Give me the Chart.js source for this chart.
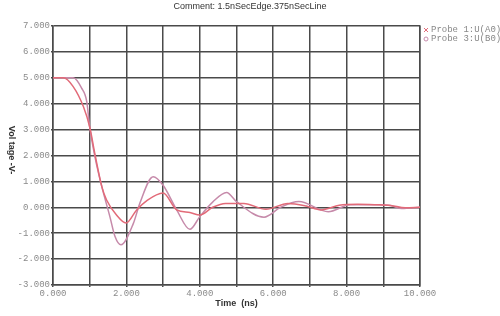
<!DOCTYPE html>
<html lang="en">
<head>
  <meta charset="UTF-8"/>
  <title>Comment: 1.5nSecEdge.375nSecLine</title>
  <script src="https://cdn.jsdelivr.net/npm/chart.js"></script>
  <style>
    html, body { margin: 0; padding: 0; background: #fff; }
    #wrap { width: 500px; height: 316px; position: relative; }
  </style>
</head>
<body>
  <div id="wrap"><canvas id="chart"></canvas></div>
  <script>
    const chartTitle = 'Comment: 1.5nSecEdge.375nSecLine';
    const xTitle = 'Time  (ns)';
    const yTitle = 'Vol tage -V-';
    const seriesNames = ['Probe 1:U(A0)', 'Probe 3:U(B0)'];

    // time in ns, voltage in V
    const probe1Time = [0, 0.28, 0.55, 0.83, 1.0, 1.15, 1.33, 1.46, 1.73, 1.99, 2.28, 2.55, 3.0, 3.37, 3.73, 4.0, 4.35, 4.7, 5.2, 5.8, 6.4, 6.9, 7.3, 7.8, 8.3, 8.8, 9.2, 9.6, 10];
    const probe1Volt = [5.0, 5.0, 4.66, 3.88, 3.1, 2.0, 0.8, 0.28, -0.3, -0.61, -0.1, 0.25, 0.55, -0.1, -0.2, -0.3, 0.0, 0.15, 0.15, -0.08, 0.15, 0.05, -0.1, 0.08, 0.12, 0.1, 0.07, -0.02, 0.0];

    const probe3Time = [0, 0.55, 0.78, 0.92, 1.0, 1.15, 1.33, 1.55, 1.69, 1.85, 2.19, 2.37, 2.73, 3.0, 3.37, 3.73, 4.0, 4.35, 4.73, 5.0, 5.75, 6.2, 6.7, 7.5, 8.1, 8.8, 9.2, 9.5, 10];
    const probe3Volt = [5.0, 5.0, 4.6, 4.08, 3.1, 1.9, 0.8, -0.36, -1.13, -1.45, -0.62, 0.17, 1.18, 0.85, -0.1, -0.85, -0.36, 0.2, 0.57, 0.22, -0.38, 0.0, 0.22, -0.17, 0.1, 0.1, 0.07, -0.05, 0.0];

    const yTicks = [-3, -2, -1, 0, 1, 2, 3, 4, 5, 6, 7];
    const xTicks = [0, 1, 2, 3, 4, 5, 6, 7, 8, 9, 10];
    const xLabelEvery = 2;

    const colors = ['#e26a78', '#c68aaa'];
    const markers = ['x', 'o'];

    const toPoints = (xs, ys) => xs.map((x, i) => ({ x, y: ys[i] }));

    const monoFont = { family: 'Liberation Mono', size: 9 };

    const extras = {
      id: 'extras',
      afterDraw(chart) {
        const ctx = chart.ctx;
        const area = chart.chartArea;
        ctx.save();
        // title
        ctx.fillStyle = '#333';
        ctx.font = '9px "Liberation Sans"';
        ctx.textAlign = 'center';
        ctx.textBaseline = 'middle';
        ctx.fillText(chartTitle, 250, 7);
        // x title
        ctx.font = 'bold 9px "Liberation Sans"';
        ctx.fillText(xTitle, (area.left + area.right) / 2, 304);
        // y title, rotated clockwise
        ctx.translate(11, 150);
        ctx.rotate(Math.PI / 2);
        ctx.fillText(yTitle, 0, 0);
        ctx.restore();

        // legend
        ctx.save();
        ctx.font = '9px "Liberation Mono"';
        ctx.textBaseline = 'middle';
        ctx.textAlign = 'left';
        seriesNames.forEach((name, i) => {
          const y = 30 + i * 9;
          ctx.strokeStyle = colors[i];
          ctx.lineWidth = 1;
          ctx.beginPath();
          if (markers[i] === 'x') {
            ctx.moveTo(424, y - 2); ctx.lineTo(428, y + 2);
            ctx.moveTo(428, y - 2); ctx.lineTo(424, y + 2);
          } else {
            ctx.arc(426, y, 2, 0, Math.PI * 2);
          }
          ctx.stroke();
          ctx.fillStyle = '#888';
          ctx.fillText(name, 431, y);
        });
        ctx.restore();
      }
    };

    new Chart(document.getElementById('chart'), {
      type: 'line',
      data: {
        datasets: [
          {
            label: seriesNames[0],
            data: toPoints(probe1Time, probe1Volt),
            borderColor: colors[0],
            borderWidth: 1.5,
            pointRadius: 0,
            cubicInterpolationMode: 'monotone'
          },
          {
            label: seriesNames[1],
            data: toPoints(probe3Time, probe3Volt),
            borderColor: colors[1],
            borderWidth: 1.5,
            pointRadius: 0,
            cubicInterpolationMode: 'monotone'
          }
        ]
      },
      options: {
        responsive: true,
        maintainAspectRatio: false,
        animation: false,
        layout: { padding: { left: 0, right: 80, top: 26, bottom: 0 } },
        plugins: {
          legend: { display: false },
          tooltip: { enabled: false }
        },
        scales: {
          x: {
            type: 'linear',
            min: 0,
            max: 10,
            afterBuildTicks: s => { s.ticks = xTicks.map(v => ({ value: v })); },
            afterFit: s => { s.height = 31; },
            ticks: {
              color: '#8a8a8a',
              font: monoFont,
              padding: 1,
              maxRotation: 0,
              autoSkip: false,
              callback: v => (v % xLabelEvery === 0 ? v.toFixed(3) : '')
            },
            grid: { color: '#4a4a4a', lineWidth: 1.5, tickLength: 2 },
            border: { color: '#4a4a4a', width: 1.5 }
          },
          y: {
            min: -3,
            max: 7,
            afterBuildTicks: s => { s.ticks = yTicks.map(v => ({ value: v })); },
            afterFit: s => { s.width = 53; },
            ticks: {
              color: '#8a8a8a',
              font: monoFont,
              padding: 1,
              autoSkip: false,
              callback: v => v.toFixed(3)
            },
            grid: { color: '#4a4a4a', lineWidth: 1.5, tickLength: 2 },
            border: { color: '#4a4a4a', width: 1.5 }
          },
          right: {
            position: 'right',
            min: -3,
            max: 7,
            ticks: { display: false },
            grid: { display: false },
            border: { color: '#4a4a4a', width: 1.5 },
            afterFit: s => { s.width = 0; }
          }
        }
      },
      plugins: [extras]
    });
  </script>
</body>
</html>
